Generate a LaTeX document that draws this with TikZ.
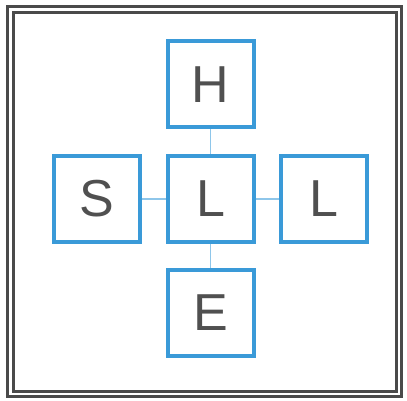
\documentclass[tikz,border=0pt]{standalone}
\usepackage{fontspec}
\setmainfont{Liberation Sans}
\usetikzlibrary{positioning}
\definecolor{boxBlue}{HTML}{3A9AD8}
\definecolor{linkBlue}{HTML}{8EC6EA}
\definecolor{frameGray}{HTML}{4A4A4A}
\definecolor{letterGray}{HTML}{505050}

\begin{document}
\begin{tikzpicture}[x=1pt,y=-1pt,
  cell/.style={rectangle,draw=boxBlue,line width=4pt,fill=white,minimum size=86pt,inner sep=0pt,
    text=letterGray,font=\fontsize{52}{60}\selectfont},
  link/.style={linkBlue,line width=1.5pt}]
  \useasboundingbox (0,0) rectangle (407,401);
% --- frame ---
  \draw[frameGray,line width=3pt] (7.5,6.5) rectangle (401.5,396.5);
  \draw[frameGray,line width=2.5pt] (13.5,12.5) rectangle (396.5,391.5);
% --- cells ---
  \node[cell] (mid) at (210.5,199) {L};
  \node[cell] (top) at (210.5,84.5) {H};
  \node[cell] (bot) at (210.5,312.5) {E};
  \node[cell] (lft) at (96.5,199) {S};
  \node[cell] (rgt) at (324,199) {L};
  \draw[link] (top)--(mid);
  \draw[link] (mid)--(bot);
  \draw[link] (lft)--(mid);
  \draw[link] (mid)--(rgt);
\end{tikzpicture}
\end{document}
